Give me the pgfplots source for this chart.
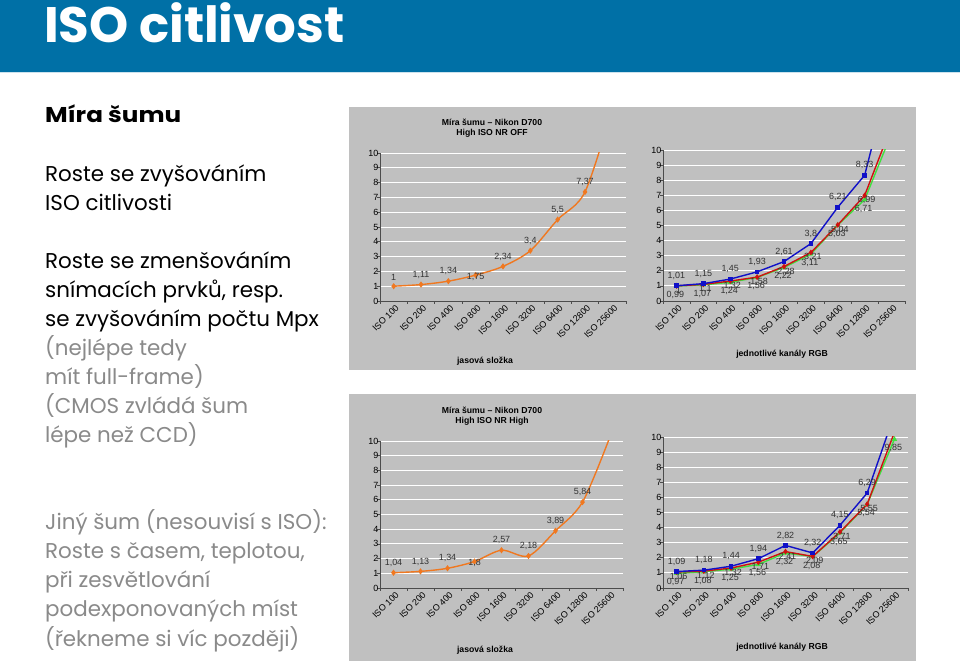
\documentclass[border=0pt]{standalone}
\usepackage{fontspec}
\usepackage{pgfplots}
\pgfplotsset{compat=1.18}
\setmainfont{Poppins}
\newfontfamily\titlefont{Poppins}
\newfontfamily\headfont{Poppins}[FakeStretch=1.15]
\newfontfamily\chartfont{Liberation Sans}
\definecolor{barblue}{HTML}{0070A6}
\definecolor{chartgray}{HTML}{C0C0C0}
\definecolor{txtgray}{HTML}{8A8A8A}
\definecolor{corange}{HTML}{F07820}
\definecolor{cblue}{HTML}{1010C8}
\definecolor{cred}{HTML}{D01010}
\definecolor{cgreen}{HTML}{40E040}
\newcommand{\cf}{\chartfont\fontsize{9}{10}\selectfont}
\pgfplotsset{
 slidechart/.style={
  scale only axis, anchor=south west,
  xmin=-0.5, xmax=8.5, ymin=0, ymax=10,
  /pgf/number format/assume math mode=true,
  axis lines*=left, axis line style={black!70, line width=0.6pt},
  ytick={0,...,10},
  xtick={0,...,8},
  xticklabels={ISO 100,ISO 200,ISO 400,ISO 800,ISO 1600,ISO 3200,ISO 6400,ISO 12800,ISO 25600},
  xticklabel style={rotate=45, anchor=north east, font=\cf, inner sep=1pt, yshift=-2bp},
  yticklabel style={font=\cf, inner sep=1.5pt},
  minor xtick={-0.5,0.5,...,8.5},
  minor ytick={0,...,10},
  tick align=outside, major tick length=0pt, minor tick length=3bp,
  tick style={black!70, line width=0.6pt},
  ymajorgrids, grid style={white, line width=0.9pt},
  clip=true,
  nodes near coords, point meta=explicit symbolic,
  every node near coord/.append style={font=\cf, text=black!80, inner sep=1.5pt},
 },
 lab/.style={visualization depends on={value \thisrow{anc}\as\anc}, every node near coord/.append style={anchor=\anc}},
 labup/.style={every node near coord/.append style={yshift=4bp}},
 labred/.style={every node near coord/.append style={xshift=2bp, yshift=1bp}},
 labgreen/.style={every node near coord/.append style={xshift=-1bp, yshift=-3bp}},
}
\begin{document}
\begin{tikzpicture}
\useasboundingbox (0,0) rectangle (960bp,661bp);
\fill[white] (0,0) rectangle (960bp,661bp);
\fill[barblue] (0,589bp) rectangle (960bp,661bp);
\draw[color=barblue!20, line width=1bp] (0,588bp) -- (960bp,588bp);
\node[anchor=base west, inner sep=0, text=white, font=\titlefont\bfseries\fontsize{50}{50}\selectfont] at (44bp,618bp) {ISO citlivost};
\node[anchor=base west, inner sep=0, font=\headfont\bfseries\fontsize{21.5}{21.5}\selectfont] at (45bp,538bp) {Míra šumu};
\begin{scope}[every node/.style={anchor=base west, inner sep=0, font=\fontsize{21.5}{21.5}\selectfont}]
\node at (45bp,479bp) {Roste se zvyšováním};
\node at (45bp,450bp) {ISO citlivosti};
\node at (45bp,392bp) {Roste se zmenšováním};
\node at (45bp,363bp) {snímacích prvků, resp.};
\node at (45bp,334bp) {se zvyšováním počtu Mpx};
\node[text=txtgray] at (45bp,305bp) {(nejlépe tedy};
\node[text=txtgray] at (45bp,276bp) {mít full-frame)};
\node[text=txtgray] at (45bp,247bp) {(CMOS zvládá šum};
\node[text=txtgray] at (45bp,218bp) {lépe než CCD)};
\node[text=txtgray] at (45bp,131bp) {Jiný šum (nesouvisí s ISO):};
\node[text=txtgray] at (45bp,102bp) {Roste s časem, teplotou,};
\node[text=txtgray] at (45bp,73bp) {při zesvětlování};
\node[text=txtgray] at (45bp,44bp) {podexponovaných míst};
\node[text=txtgray] at (45bp,15bp) {(řekneme si víc později)};
\end{scope}
\fill[chartgray] (349bp,291bp) rectangle (916bp,553.5bp);
\fill[chartgray] (349bp,0bp) rectangle (916bp,267bp);
\begin{scope}[every node/.style={font=\chartfont\bfseries\fontsize{8.7}{10.5}\selectfont, align=center, inner sep=0}]
\node at (492bp,533bp) {Míra šumu – Nikon D700\\High ISO NR OFF};
\node at (492bp,245bp) {Míra šumu – Nikon D700\\High ISO NR High};
\node at (485bp,300bp) {jasová složka};
\node at (782bp,307bp) {jednotlivé kanály RGB};
\node at (485bp,11bp) {jasová složka};
\node at (782bp,14bp) {jednotlivé kanály RGB};
\end{scope}
% top-left
\begin{axis}[slidechart, at={(380bp,360bp)}, width=246bp, height=148bp]
\addplot[corange, line width=1.4pt, smooth, mark=diamond*, mark size=2bp, lab, labup] table[x=x,y=y,meta=lab] {
x y lab anc
0 1.00 1 south
1 1.11 1,11 south
2 1.34 1,34 south
3 1.75 1,75 north west
4 2.34 2,34 south
5 3.40 3,4 south
6 5.50 5,5 south
7 7.37 7,37 south
8 13.0 {} south
};
\end{axis}
% top-right
\begin{axis}[slidechart, at={(663bp,360bp)}, width=242bp, height=151bp]
\addplot[cgreen, line width=1.4pt, mark=triangle*, mark size=1.8bp, lab, labgreen] table[x=x,y=y,meta=lab] {
x y lab anc
0 0.99 0,99 north
1 1.07 1,07 north
2 1.24 1,24 north
3 1.56 1,56 north
4 2.22 2,22 north
5 3.11 3,11 north
6 5.03 5,03 north
7 6.71 6,71 north
8 11.1 {} north
};
\addplot[cred, line width=1.4pt, mark=diamond*, mark size=1.8bp, lab, labred] table[x=x,y=y,meta=lab] {
x y lab anc
0 1.00 1 north
1 1.10 1,1 north
2 1.32 1,32 north
3 1.58 1,58 north
4 2.28 2,28 north
5 3.21 3,21 north
6 5.04 5,04 north
7 6.99 6,99 north
8 11.6 {} north
};
\addplot[cblue, line width=1.4pt, mark=square*, mark size=1.6bp, lab, labup] table[x=x,y=y,meta=lab] {
x y lab anc
0 1.01 1,01 south
1 1.15 1,15 south
2 1.45 1,45 south
3 1.93 1,93 south
4 2.61 2,61 south
5 3.80 3,8 south
6 6.21 6,21 south
7 8.33 8,33 south
8 15.3 {} south
};
\end{axis}
% bottom-left
\begin{axis}[slidechart, at={(380bp,73bp)}, width=243bp, height=147bp]
\addplot[corange, line width=1.4pt, smooth, mark=diamond*, mark size=2bp, lab, labup] table[x=x,y=y,meta=lab] {
x y lab anc
0 1.04 1,04 south
1 1.13 1,13 south
2 1.34 1,34 south
3 1.80 1,8 north west
4 2.57 2,57 south
5 2.18 2,18 south
6 3.89 3,89 south
7 5.84 5,84 south
8 10.2 {} south
};
\end{axis}
% bottom-right
\begin{axis}[slidechart, at={(663bp,73bp)}, width=245bp, height=151bp]
\addplot[cgreen, line width=1.4pt, mark=triangle*, mark size=1.8bp, lab, labgreen] table[x=x,y=y,meta=lab] {
x y lab anc
0 0.97 0,97 north
1 1.08 1,08 north
2 1.25 1,25 north
3 1.56 1,56 north
4 2.32 2,32 north
5 2.08 2,08 north
6 3.65 3,65 north
7 5.54 5,54 north
8 9.85 9,85 north west
};
\addplot[cred, line width=1.4pt, mark=diamond*, mark size=1.8bp, lab, labred] table[x=x,y=y,meta=lab] {
x y lab anc
0 1.06 1,06 north
1 1.12 1,12 north
2 1.32 1,32 north
3 1.71 1,71 north
4 2.41 2,41 north
5 2.09 2,09 north
6 3.71 3,71 north
7 5.55 5,55 north
8 10.3 {} north
};
\addplot[cblue, line width=1.4pt, mark=square*, mark size=1.6bp, lab, labup] table[x=x,y=y,meta=lab] {
x y lab anc
0 1.09 1,09 south
1 1.18 1,18 south
2 1.44 1,44 south
3 1.94 1,94 south
4 2.82 2,82 south
5 2.32 2,32 south
6 4.15 4,15 south
7 6.29 6,29 south
8 11.5 {} south
};
\end{axis}
\end{tikzpicture}
\end{document}
